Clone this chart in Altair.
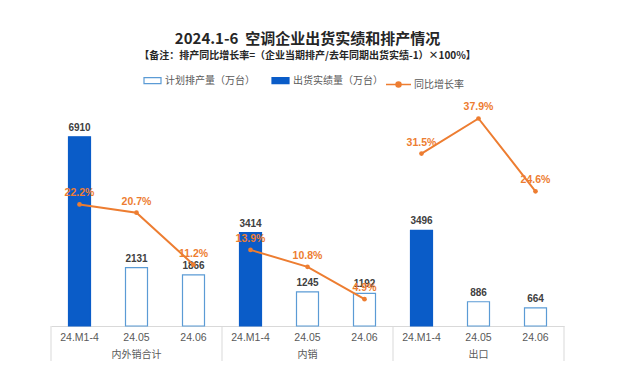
import altair as alt
import pandas as pd

groups = ["内外销合计", "内销", "出口"]
cats = ["24.M1-4", "24.05", "24.06"]
values = [6910, 2131, 1866, 3414, 1245, 1192, 3496, 886, 664]
pcts = [22.2, 20.7, 11.2, 13.9, 10.8, 4.9, 31.5, 37.9, 24.6]
plan_name = "计划排产量（万台）"
actual_name = "出货实绩量（万台）"
line_name = "同比增长率"
series = [actual_name, plan_name, plan_name] * 3
separators = [-0.5, 2.5, 5.5, 8.5]

df = pd.DataFrame({
    "idx": list(range(9)),
    "group": [g for g in groups for _ in range(3)],
    "cat": cats * 3,
    "value": values,
    "pct": pcts,
    "series": series,
})
sep_df = pd.DataFrame({"sep": separators})

FONT = "Liberation Sans, Noto Sans CJK SC, sans-serif"
CJK = "Noto Sans CJK SC, Liberation Sans, sans-serif"
ORANGE = "#ED7D31"
BLUE = "#0A5CC8"
LBLUE = "#5B9BD5"
GREY = "#595959"

xscale = alt.Scale(domain=[-0.5, 8.5], nice=False, zero=False, padding=0)
xenc = alt.X("idx:Q", scale=xscale,
             axis=alt.Axis(labels=False, ticks=False, grid=False, title=None,
                           domainColor="#D9D9D9", domainWidth=1))
ybar = alt.Y("value:Q", scale=alt.Scale(domain=[0, 8000], nice=False), axis=None)
ypct = alt.Y("pct:Q", scale=alt.Scale(domain=[0, 40], nice=False), axis=None)

bar_legend = alt.Legend(
    orient="none", legendX=92, legendY=-36, direction="horizontal", title=None,
    symbolType="M-1,-0.35H1V0.35H-1Z", symbolSize=289, symbolStrokeWidth=1.2,
    labelFont=CJK, labelFontSize=10, labelColor=GREY, labelOffset=3,
    columnPadding=14, padding=0,
)

base = alt.Chart(df)

bars = base.mark_bar(size=22, strokeWidth=1.2).encode(
    x=xenc,
    y=ybar,
    fill=alt.Fill("series:N", scale=alt.Scale(domain=[plan_name, actual_name],
                                               range=["#FFFFFF", BLUE]),
                  legend=bar_legend),
    stroke=alt.Stroke("series:N", scale=alt.Scale(domain=[plan_name, actual_name],
                                                   range=[LBLUE, BLUE]),
                      legend=bar_legend),
)

bar_labels = base.mark_text(baseline="bottom", dy=-4, font=FONT, fontSize=10,
                            fontWeight="bold", color="#404040").encode(
    x=alt.X("idx:Q", scale=xscale), y=ybar, text=alt.Text("value:Q", format="d"))

line = base.transform_calculate(lname="'" + line_name + "'").mark_line(strokeWidth=2).encode(
    x=alt.X("idx:Q", scale=xscale),
    y=ypct,
    detail="group:N",
    color=alt.Color("lname:N", scale=alt.Scale(domain=[line_name], range=[ORANGE]),
                    legend=alt.Legend(
                        orient="none", legendX=334, legendY=-36, title=None,
                        symbolType="M-1,0H1M-0.2,0A0.2,0.2 0 1 0 0.2,0A0.2,0.2 0 1 0 -0.2,0",
                        symbolSize=625, symbolStrokeWidth=1.5, symbolFillColor=ORANGE,
                        labelFont=CJK, labelFontSize=10, labelColor=GREY, labelOffset=2,
                        padding=0)),
)

points = base.mark_circle(size=22, color=ORANGE, opacity=1).encode(
    x=alt.X("idx:Q", scale=xscale), y=ypct)

pct_labels = base.transform_calculate(
    plabel="format(datum.pct, '.1f') + '%'"
).mark_text(dy=-11, font=FONT, fontSize=10.5, fontWeight="bold", color=ORANGE).encode(
    x=alt.X("idx:Q", scale=xscale), y=ypct, text="plabel:N")

rules = alt.Chart(sep_df).mark_rule(color="#D9D9D9", strokeWidth=1).encode(
    x=alt.X("sep:Q", scale=xscale), y=alt.value(219), y2=alt.value(275))

cat_labels = base.mark_text(font=FONT, fontSize=10.5, color=GREY).encode(
    x=alt.X("idx:Q", scale=xscale), y=alt.value(231), text="cat:N")

group_labels = base.transform_filter("datum.idx % 3 == 1").mark_text(
    font=CJK, fontSize=10, color=GREY).encode(
    x=alt.X("idx:Q", scale=xscale), y=alt.value(248), text="group:N")

chart = alt.layer(
    rules, bars, bar_labels, line, points, pct_labels, cat_labels, group_labels
).resolve_scale(y="independent").properties(
    width=513, height=219,
    title=alt.Title(
        text="2024.1-6\u00a0\u00a0空调企业出货实绩和排产情况",
        subtitle="【备注：排产同比增长率=（企业当期排产/去年同期出货实绩-1）×100%】",
        anchor="middle", frame="group", font=CJK, fontSize=15, fontWeight="bold",
        color="#262626", subtitleFont=CJK, subtitleFontSize=10,
        subtitleFontWeight="bold", subtitleColor="#262626", subtitlePadding=4,
        offset=10,
    ),
    autosize=alt.AutoSizeParams(type="none"),
    padding={"left": 43, "top": 99, "right": 47, "bottom": 35},
).configure(background="#FFFFFF").configure_view(stroke=None)

chart.save("out.html", embed_options={"renderer": "svg", "actions": False})
